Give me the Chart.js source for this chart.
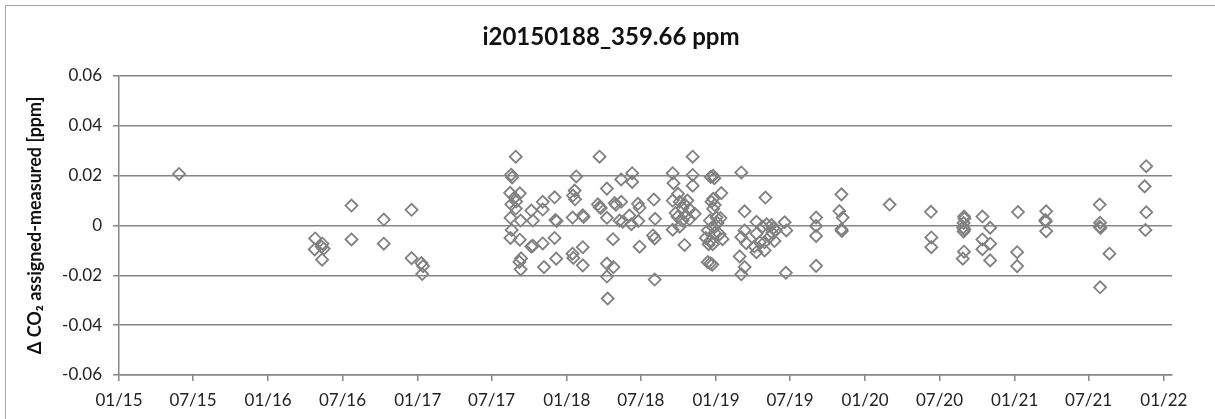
<!DOCTYPE html>
<html>
<head>
<meta charset="utf-8">
<title>i20150188_359.66 ppm</title>
<script src="https://cdn.jsdelivr.net/npm/chart.js@4"></script>
<style>
  html, body { margin: 0; padding: 0; background: #fff; }
  #wrap { width: 1215px; height: 419px; }
</style>
</head>
<body>
<div id="wrap"><canvas id="chart" width="1215" height="419"></canvas></div>
<script>
// measurement dates and deviation (assigned - measured) in ppm
const measuredDates = [
  '2015-05-28',
  '2016-04-24', '2016-04-25', '2016-05-11', '2016-05-13', '2016-05-12', '2016-05-16',
  '2016-07-23', '2016-07-23', '2016-10-10', '2016-10-10', '2016-12-17', '2016-12-17',
  '2017-01-10', '2017-01-14', '2017-01-12',
  '2017-08-29', '2017-08-18', '2017-08-20', '2017-08-15', '2017-09-08', '2017-08-26',
  '2017-08-30', '2017-08-18', '2017-08-29', '2017-08-16', '2017-09-10', '2017-08-19',
  '2017-08-16', '2017-09-08', '2017-09-11', '2017-09-07', '2017-09-10',
  '2017-10-06', '2017-10-10', '2017-10-06', '2017-10-10', '2017-11-03', '2017-11-03',
  '2017-11-03', '2017-11-06', '2017-12-02', '2017-12-04', '2017-12-07', '2017-12-02',
  '2017-12-06',
  '2018-01-24', '2018-01-20', '2018-01-16', '2018-01-21', '2018-01-15', '2018-02-09',
  '2018-02-11', '2018-02-09', '2018-01-15', '2018-01-17', '2018-02-09',
  '2018-03-22', '2018-04-09', '2018-03-18', '2018-03-22', '2018-03-25', '2018-04-09',
  '2018-04-28', '2018-05-01', '2018-04-24', '2018-04-09', '2018-04-25', '2018-04-09',
  '2018-04-11',
  '2018-05-14', '2018-05-14', '2018-05-18', '2018-05-10', '2018-06-10', '2018-06-10',
  '2018-06-03', '2018-06-08', '2018-06-24', '2018-06-28', '2018-06-25', '2018-06-28',
  '2018-08-02', '2018-08-05', '2018-07-31', '2018-08-04', '2018-08-04',
  '2018-09-17', '2018-09-19', '2018-09-17', '2018-09-17', '2018-11-05', '2018-11-05',
  '2018-11-05', '2018-09-30', '2018-10-04', '2018-10-16', '2018-10-23', '2018-10-11',
  '2018-10-28', '2018-09-29', '2018-10-11', '2018-10-19', '2018-10-28', '2018-10-04',
  '2018-11-10', '2018-10-16', '2018-09-24',
  '2018-12-25', '2018-12-28', '2018-12-19', '2019-01-14', '2018-12-25', '2018-12-21',
  '2018-12-29', '2018-12-25', '2019-01-12', '2019-01-05', '2018-12-17', '2018-12-24',
  '2018-12-12', '2018-12-29', '2019-01-10', '2018-12-07', '2018-12-19', '2018-12-24',
  '2019-01-17', '2018-12-12', '2018-12-18', '2018-12-23', '2019-01-02', '2018-12-14',
  '2019-03-04', '2019-03-12', '2019-03-12', '2019-03-16', '2019-02-28', '2019-03-12',
  '2019-03-04', '2019-03-04',
  '2019-04-10', '2019-04-10', '2019-04-05', '2019-04-10', '2019-05-02', '2019-04-25',
  '2019-05-05', '2019-04-30', '2019-04-30', '2019-05-17', '2019-05-22', '2019-05-27',
  '2019-05-19', '2019-05-24', '2019-06-18', '2019-06-22', '2019-06-21', '2019-04-18',
  '2019-05-12',
  '2019-09-03', '2019-09-03', '2019-09-03', '2019-09-03',
  '2019-11-04', '2019-10-30', '2019-11-07', '2019-11-04', '2019-11-05',
  '2020-03-01', '2020-06-10', '2020-06-11', '2020-06-11',
  '2020-08-30', '2020-08-31', '2020-08-29', '2020-08-28', '2020-08-31', '2020-08-29',
  '2020-08-30', '2020-08-27',
  '2020-10-14', '2020-11-02', '2020-10-14', '2020-10-14', '2020-11-02', '2020-11-02',
  '2021-01-09', '2021-01-07', '2021-01-07',
  '2021-03-19', '2021-03-17', '2021-03-18', '2021-03-19',
  '2021-07-28', '2021-07-29', '2021-07-28', '2021-07-30', '2021-08-21', '2021-07-29',
  '2021-11-19', '2021-11-15', '2021-11-19', '2021-11-17'
];

const deltaCO2 = [
  0.0207,
  -0.0096, -0.0052, -0.0085, -0.0073, -0.0137, -0.0093,
  0.0080, -0.0056, 0.0024, -0.0073, 0.0063, -0.0131,
  -0.0151, -0.0163, -0.0195,
  0.0276, 0.0204, 0.0193, 0.0131, 0.0129, 0.0112,
  0.0096, 0.0085, 0.0068, 0.0031, 0.0020, -0.0018,
  -0.0050, -0.0057, -0.0132, -0.0146, -0.0176,
  0.0060, 0.0020, -0.0084, -0.0081, 0.0095, 0.0064,
  -0.0072, -0.0167, 0.0113, 0.0022, 0.0018, -0.0050,
  -0.0133,
  0.0197, 0.0140, 0.0120, 0.0105, 0.0032, 0.0041,
  0.0034, -0.0087, -0.0113, -0.0130, -0.0160,
  0.0276, 0.0148, 0.0085, 0.0074, 0.0070, 0.0031,
  0.0090, 0.0083, -0.0055, -0.0153, -0.0167, -0.0205,
  -0.0293,
  0.0185, 0.0095, 0.0015, 0.0020, 0.0210, 0.0175,
  0.0040, 0.0005, 0.0087, 0.0071, 0.0018, -0.0085,
  0.0104, 0.0027, -0.0040, -0.0052, -0.0217,
  0.0210, 0.0170, 0.0100, -0.0017, 0.0276, 0.0203,
  0.0160, 0.0127, 0.0095, 0.0085, 0.0100, 0.0070,
  0.0065, 0.0035, 0.0020, 0.0040, 0.0025, -0.0005,
  0.0047, -0.0078, 0.0050,
  0.0200, 0.0190, 0.0195, 0.0130, 0.0107, 0.0095,
  0.0082, 0.0067, 0.0030, 0.0010, 0.0020, -0.0005,
  -0.0020, -0.0030, -0.0035, -0.0050, -0.0060, -0.0075,
  -0.0055, -0.0147, -0.0152, -0.0157, 0.0032, -0.0075,
  0.0213, 0.0057, -0.0020, -0.0071, -0.0124, -0.0167,
  -0.0196, -0.0047,
  0.0015, -0.0033, -0.0084, -0.0107, 0.0112, -0.0005,
  0.0005, -0.0067, -0.0100, 0.0002, -0.0010, -0.0020,
  -0.0030, -0.0062, 0.0013, -0.0020, -0.0190, -0.0067,
  -0.0047,
  0.0032, -0.0002, -0.0042, -0.0162,
  0.0125, 0.0058, 0.0032, -0.0015, -0.0022,
  0.0084, 0.0055, -0.0048, -0.0087,
  0.0036, 0.0028, 0.0010, -0.0008, -0.0016, -0.0024,
  -0.0105, -0.0133,
  0.0036, -0.0009, -0.0056, -0.0095, -0.0073, -0.0140,
  0.0054, -0.0107, -0.0163,
  0.0057, 0.0022, 0.0016, -0.0023,
  0.0084, 0.0011, -0.0005, -0.0010, -0.0113, -0.0248,
  0.0238, 0.0157, 0.0053, -0.0018
];

// x axis: half-year ticks, labelled MM/YY
const tickDates = [
  '2015-01-01', '2015-07-01', '2016-01-01', '2016-07-01', '2017-01-01',
  '2017-07-01', '2018-01-01', '2018-07-01', '2019-01-01', '2019-07-01',
  '2020-01-01', '2020-07-01', '2021-01-01', '2021-07-01', '2022-01-01'
];
const xRange = ['2015-01-01', '2022-01-21'];
const yTicks = [-0.06, -0.04, -0.02, 0, 0.02, 0.04, 0.06];

const gray = '#868686';
const textFont = 'Lato, "Open Sans", "Liberation Sans", sans-serif';

const points = measuredDates.map((d, i) => ({ x: Date.parse(d), y: deltaCO2[i] }));

function fmtDate(ms) {
  const d = new Date(ms);
  const mm = String(d.getUTCMonth() + 1).padStart(2, '0');
  const yy = String(d.getUTCFullYear() % 100).padStart(2, '0');
  return mm + '/' + yy;
}

// grey frame around the whole chart, like the spreadsheet export
const frame = {
  id: 'frame',
  beforeDraw(chart) {
    const ctx = chart.ctx;
    ctx.save();
    ctx.fillStyle = '#fff';
    ctx.fillRect(0, 0, chart.width, chart.height);
    ctx.strokeStyle = '#a6a6a6';
    ctx.lineWidth = 1;
    ctx.strokeRect(5.5, 5.5, chart.width + 20, chart.height + 20);
    ctx.restore();
  }
};

new Chart(document.getElementById('chart'), {
  type: 'scatter',
  data: {
    datasets: [{
      label: 'i20150188_359.66 ppm',
      data: points,
      pointStyle: 'rectRot',
      pointRadius: 6,
      pointBorderWidth: 1.8,
      borderColor: '#808080',
      backgroundColor: 'rgba(0,0,0,0)'
    }]
  },
  options: {
    responsive: false,
    animation: false,
    events: [],
    layout: { padding: { left: 7, right: 0, top: 0, bottom: 0 } },
    plugins: {
      legend: { display: false },
      tooltip: { enabled: false },
      title: {
        display: true,
        text: 'i20150188_359.66 ppm',
        color: '#111',
        font: { family: textFont, size: 24, weight: 'bold' },
        padding: { top: 22.6, bottom: 24.6 }
      }
    },
    scales: {
      x: {
        type: 'linear',
        min: Date.parse(xRange[0]),
        max: Date.parse(xRange[1]),
        afterBuildTicks(scale) {
          scale.ticks = tickDates.map(d => ({ value: Date.parse(d) }));
        },
        afterFit(scale) { scale.height = 44; },
        ticks: {
          autoSkip: false,
          maxRotation: 0,
          padding: 9,
          color: '#222',
          font: { family: textFont, size: 17 },
          callback: v => fmtDate(v)
        },
        grid: { drawOnChartArea: false, drawTicks: true, tickLength: 6, color: gray, lineWidth: 1.5 },
        border: { display: true, color: gray, width: 1.5 }
      },
      y: {
        min: -0.06,
        max: 0.06,
        afterBuildTicks(scale) {
          scale.ticks = yTicks.map(v => ({ value: v }));
        },
        afterFit(scale) { scale.width = 112; },
        ticks: {
          padding: 11,
          color: '#222',
          font: { family: textFont, size: 17 },
          callback: v => (Math.abs(v) < 1e-9 ? '0' : v.toFixed(2))
        },
        grid: { color: gray, lineWidth: 1.5, tickLength: 6 },
        border: { display: true, color: gray, width: 1.5 },
        title: {
          display: true,
          text: 'Δ CO₂ assigned-measured [ppm]',
          color: '#111',
          font: { family: textFont, size: 18, weight: 'bold' },
          padding: { top: 17, bottom: 0 }
        }
      },
      // empty band on the right so the plot stops short of the frame
      yRight: {
        position: 'right',
        display: true,
        min: -0.06,
        max: 0.06,
        afterFit(scale) { scale.width = 43; },
        ticks: { display: false },
        grid: { display: false },
        border: { display: false }
      }
    }
  },
  plugins: [frame]
});
</script>
</body>
</html>
